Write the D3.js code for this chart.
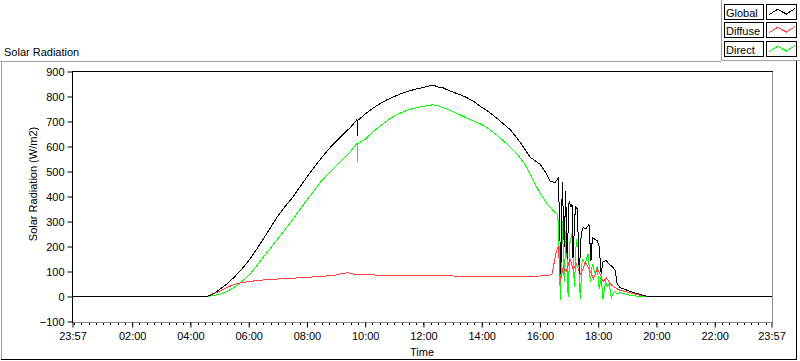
<!DOCTYPE html>
<html><head><meta charset="utf-8">
<script src="https://cdn.jsdelivr.net/npm/d3@7"></script>
<style>
body{margin:0;background:#fff;}
svg{display:block;font-family:"Liberation Sans",Arial,sans-serif;font-size:11px;}
</style></head><body>
<svg id="c" width="800" height="361"></svg>
<script>
const chartTitle = "Solar Radiation";
const yTitle = "Solar Radiation (W/m2)";
const xTitle = "Time";
const seriesNames = ["Global", "Diffuse", "Direct"];
const seriesColors = ["#000000", "#ff4040", "#00ff00"];
const yTicks = [-100, 0, 100, 200, 300, 400, 500, 600, 700, 800, 900];
const xTickLabels = ["23:57","02:00","04:00","06:00","08:00","10:00","12:00","14:00","16:00","18:00","20:00","22:00","23:57"];

const globalTimes = ["23:57","04:33","04:40","04:50","05:00","05:15","05:30","05:45","06:00","06:15","06:30","06:45","07:00","07:15","07:30","07:45","08:00","08:15","08:30","08:45","09:00","09:15","09:30","09:40","09:43","09:44","09:45","10:00","10:15","10:30","10:45","11:00","11:15","11:30","11:45","12:00","12:10","12:20","12:30","12:40","12:50","13:00","13:15","13:30","13:45","14:00","14:15","14:30","14:45","15:00","15:20","15:40","16:01","16:14","16:21","16:31","16:38","16:43","16:46","16:50","16:53","16:56","17:00","17:04","17:06","17:08","17:13","17:17","17:21","17:25","17:29","17:35","17:41","17:45","17:48","17:58","18:02","18:06","18:10","18:17","18:21","18:29","18:35","18:39","18:45","19:06","19:27","19:43","23:57"];
const globalValues = [0,0,4,14,28,50,77,108,143,185,230,276,322,360,395,437,478,517,555,590,621,650,677,700,709,641,705,730,752,771,787,800,812,822,830,836,841,846,838,835,826,818,808,795,778,757,738,715,690,665,615,557,528,489,462,455,475,92,458,200,420,150,380,360,370,155,360,350,92,250,275,270,290,143,235,223,200,92,140,143,131,120,104,52,36,20,8,0,0];

const diffuseTimes = ["23:57","04:33","04:45","05:00","05:15","05:30","05:45","06:00","06:30","07:00","07:30","08:00","08:30","09:00","09:15","09:25","09:35","10:00","10:30","11:00","12:00","13:00","14:00","15:00","16:00","16:20","16:25","16:33","16:38","16:42","16:48","16:54","17:02","17:08","17:15","17:23","17:29","17:33","17:44","17:50","17:58","18:04","18:10","18:17","18:25","18:35","18:45","19:06","19:27","19:43","23:57"];
const diffuseValues = [0,0,10,21,36,48,55,60,66,70,73,77,80,86,93,95,90,88,85,84,83,82,81,80,82,86,90,175,200,60,120,100,150,110,130,90,110,140,100,70,110,90,60,75,50,35,25,15,5,0,0];

const directTimes = ["23:57","04:33","04:40","05:00","05:15","05:30","05:45","06:00","06:15","06:30","06:45","07:00","07:15","07:30","07:45","08:00","08:15","08:30","08:45","09:00","09:15","09:30","09:43","09:44","09:45","10:00","10:15","10:30","10:45","11:00","11:15","11:30","11:45","12:00","12:20","12:30","12:45","13:00","13:15","13:30","13:45","14:00","14:15","14:30","14:45","15:00","15:15","15:30","15:40","15:50","16:01","16:15","16:28","16:35","16:38","16:42","16:46","16:50","16:54","16:58","17:02","17:06","17:11","17:15","17:19","17:23","17:27","17:33","17:39","17:44","17:48","17:54","17:58","18:02","18:06","18:10","18:15","18:19","18:23","18:27","18:33","18:39","18:45","19:06","19:27","23:57"];
const directValues = [0,0,2,8,20,37,58,84,118,157,194,231,268,306,346,386,424,462,493,522,552,581,613,538,612,629,656,681,703,723,736,747,755,761,767,763,752,741,727,713,701,688,670,648,622,595,565,525,489,450,410,370,342,330,300,-12,300,60,280,0,220,250,40,230,190,-10,150,130,170,60,130,90,120,30,80,-10,60,40,50,-5,20,10,15,5,0,0];

// parse "HH:MM" sequences; a time earlier than the previous one rolls to the next day
function parseSeq(arr) {
  let day = 0, prev = -1;
  return arr.map(s => {
    const [h, m] = s.split(":").map(Number);
    const mins = h * 60 + m;
    if (mins < prev) day++;
    prev = mins;
    return new Date(2000, 0, 1 + day, h, m);
  });
}
function makeSeries(times, values) {
  const ts = parseSeq(times);
  return ts.map((t, i) => ({t, v: values[i]}));
}
const series = [
  makeSeries(globalTimes, globalValues),
  makeSeries(diffuseTimes, diffuseValues),
  makeSeries(directTimes, directValues)
];

const svg = d3.select("#c");
const L = 72, R = 772, T = 71, B = 322;
const tickDates = parseSeq(xTickLabels);
const x = d3.scaleTime().domain([tickDates[0], tickDates[tickDates.length-1]]).range([L + 0.5, R - 0.5]);
const y = d3.scaleLinear().domain([-100, 900]).range([B - 0.5, T + 0.5]);

// outer panel frame
svg.append("line").attr("x1",0).attr("x2",721).attr("y1",61.5).attr("y2",61.5).attr("stroke","#a0a0a0");
svg.append("line").attr("x1",1.5).attr("x2",1.5).attr("y1",61).attr("y2",360).attr("stroke","#a0a0a0");
svg.append("line").attr("x1",1).attr("x2",797).attr("y1",359.5).attr("y2",359.5).attr("stroke","#000");
svg.append("line").attr("x1",796.5).attr("x2",796.5).attr("y1",61).attr("y2",360).attr("stroke","#000");
// legend panel
svg.append("line").attr("x1",721.5).attr("x2",721.5).attr("y1",0).attr("y2",61).attr("stroke","#a0a0a0");
svg.append("line").attr("x1",721).attr("x2",800).attr("y1",60.5).attr("y2",60.5).attr("stroke","#a0a0a0");

// title
svg.append("text").attr("x",4).attr("y",55.5).text(chartTitle);

// plot frame
svg.append("line").attr("x1",R+0.5).attr("x2",R+0.5).attr("y1",T).attr("y2",B+1).attr("stroke","#909090");
svg.append("line").attr("x1",L).attr("x2",R+1).attr("y1",B+0.5).attr("y2",B+0.5).attr("stroke","#909090");
svg.append("line").attr("x1",L).attr("x2",R+1).attr("y1",T+0.5).attr("y2",T+0.5).attr("stroke","#000");
svg.append("line").attr("x1",L+0.5).attr("x2",L+0.5).attr("y1",T).attr("y2",B+1).attr("stroke","#000");

// y axis
const yAxis = d3.axisLeft(y).tickValues(yTicks).tickSize(5).tickSizeOuter(0).tickPadding(3);
const gy = svg.append("g").attr("transform",`translate(${L+0.5},0)`).call(yAxis);
gy.select(".domain").remove();
gy.selectAll("line").attr("stroke","#000");
gy.selectAll("text").attr("fill","#000").style("font-size","11px").style("font-family","'Liberation Sans',Arial,sans-serif").attr("dy","0.55em").attr("y",-2);

// x axis major
const xAxis = d3.axisBottom(x).tickValues(tickDates).tickFormat(d3.timeFormat("%H:%M")).tickSize(5).tickSizeOuter(0).tickPadding(5);
const gx = svg.append("g").attr("transform",`translate(0,${B+0.5})`).call(xAxis);
gx.select(".domain").remove();
gx.selectAll("line").attr("stroke","#000");
gx.selectAll("text").attr("fill","#000").style("font-size","11px").style("font-family","'Liberation Sans',Arial,sans-serif");
// x axis minor ticks every 15 minutes
const minor = d3.timeMinute.every(15).range(tickDates[0], tickDates[tickDates.length-1]);
svg.append("g").selectAll("line").data(minor).join("line")
  .attr("x1", d => Math.round(x(d)) + 0.5).attr("x2", d => Math.round(x(d)) + 0.5)
  .attr("y1", B + 1).attr("y2", B + 3).attr("stroke","#000");

// axis titles
svg.append("text").attr("x", (L+R)/2).attr("y", 355.5).attr("text-anchor","middle").text(xTitle);
svg.append("text").attr("transform","translate(37,184) rotate(-90)").attr("text-anchor","middle").text(yTitle);

// data lines
const line = d3.line().x(d => x(d.t)).y(d => y(d.v));
const plotG = svg.append("g");
[2, 1, 0].forEach(i => {
  plotG.append("path").datum(series[i]).attr("d", line)
    .attr("fill","none").attr("stroke", seriesColors[i]).attr("stroke-width",1)
    .attr("shape-rendering","crispEdges");
});

// legend
const legTop = [4.5, 22.5, 41.5];
seriesNames.forEach((name, i) => {
  const g = svg.append("g");
  g.append("rect").attr("x",724.5).attr("y",legTop[i]).attr("width",39).attr("height",15).attr("fill","#fff").attr("stroke","#000");
  g.append("text").attr("x",726).attr("y",legTop[i]+12).text(name);
  g.append("rect").attr("x",766.5).attr("y",legTop[i]).attr("width",30).attr("height",15).attr("fill","#fff").attr("stroke","#000");
  const sx = d3.scaleLinear().domain([0,3]).range([769, 795]);
  const sy = d3.scaleLinear().domain([0,1]).range([legTop[i]+11, legTop[i]+4]);
  const pts = [[0,0.1],[1,0.9],[2,0.2],[3,1]];
  g.append("path").attr("d", d3.line().x(p => sx(p[0])).y(p => sy(p[1]))(pts))
    .attr("fill","none").attr("stroke", seriesColors[i]).attr("shape-rendering","crispEdges");
});
</script>
</body></html>
